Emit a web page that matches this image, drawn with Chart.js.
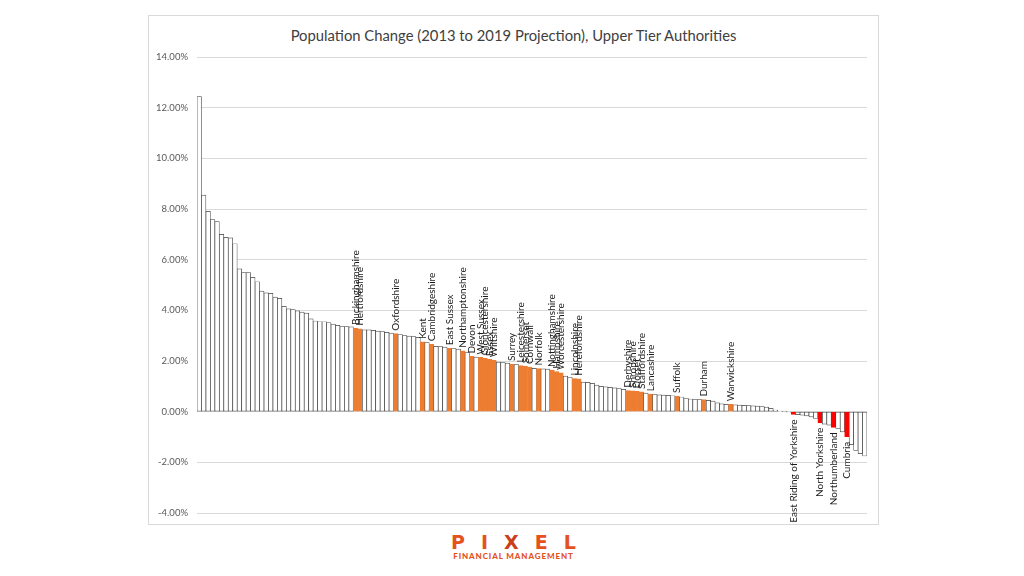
<!DOCTYPE html>
<html>
<head>
<meta charset="utf-8">
<title>Population Change (2013 to 2019 Projection)</title>
<script src="https://cdn.jsdelivr.net/npm/chart.js@4"></script>
<style>
    html, body { margin: 0; padding: 0; background: #fff; }
    body { width: 1024px; height: 576px; position: relative; overflow: hidden; font-family: Lato, "Open Sans", sans-serif; }
    #frame { position: absolute; left: 148px; top: 15px; width: 729px; height: 508px; border: 1px solid #d9d9d9; }
    #chartTitle { position: absolute; left: 0; top: 10px; width: 100%; text-align: center; font-size: 14.8px; line-height: 18px; color: #404040; white-space: nowrap; }
    #populationChart { position: absolute; left: 0; top: 0; }
    #logo { position: absolute; left: 451px; top: 534px; width: 125px; color: #e4521d; font-weight: bold; font-family: "DejaVu Sans", sans-serif; }
    #logo .word { display: flex; justify-content: space-between; font-size: 19px; line-height: 17px; }
    #logo .word .x { color: #c9401a; }
    #logo .sub { font-family: Lato, sans-serif; font-weight: 900; font-size: 8px; line-height: 10px; text-align: center; letter-spacing: 0.9px; white-space: nowrap; }
</style>
</head>
<body>
<div id="frame">
    <div id="chartTitle"></div>
    <canvas id="populationChart" width="729" height="508"></canvas>
</div>
<div id="logo">
    <div class="word"><span>P</span><span>I</span><span class="x">X</span><span>E</span><span>L</span></div>
    <div class="sub">FINANCIAL MANAGEMENT</div>
</div>
<script>
// population change 2013 -> 2019 projection, % (sorted, one bar per upper tier authority)
const values = [
    12.44, 8.55, 7.91, 7.58, 7.50, 7.00, 6.88, 6.86, 6.63, 5.64,
    5.49, 5.49, 5.30, 5.13, 4.76, 4.69, 4.67, 4.52, 4.47, 4.16,
    4.06, 4.03, 3.98, 3.93, 3.89, 3.66, 3.58, 3.55, 3.55, 3.52,
    3.46, 3.41, 3.36, 3.36, 3.35, 3.30, 3.27, 3.23, 3.23, 3.21,
    3.18, 3.16, 3.13, 3.10, 3.08, 3.04, 3.00, 2.98, 2.96, 2.93,
    2.76, 2.73, 2.66, 2.58, 2.57, 2.55, 2.50, 2.49, 2.47, 2.40,
    2.33, 2.18, 2.15, 2.14, 2.11, 2.07, 2.03, 1.96, 1.94, 1.92,
    1.88, 1.86, 1.82, 1.79, 1.76, 1.71, 1.70, 1.69, 1.68, 1.64,
    1.58, 1.53, 1.40, 1.36, 1.31, 1.30, 1.17, 1.16, 1.12, 1.05,
    1.00, 0.98, 0.96, 0.94, 0.91, 0.88, 0.83, 0.82, 0.80, 0.78,
    0.73, 0.69, 0.67, 0.66, 0.65, 0.64, 0.63, 0.62, 0.58, 0.53,
    0.50, 0.48, 0.48, 0.48, 0.45, 0.42, 0.35, 0.31, 0.29, 0.29,
    0.27, 0.26, 0.25, 0.24, 0.23, 0.22, 0.20, 0.18, 0.13, 0.06,
    0.02, 0.01, -0.02, -0.11, -0.12, -0.14, -0.17, -0.21, -0.27, -0.44,
    -0.49, -0.53, -0.62, -0.66, -0.80, -0.99, -1.30, -1.53, -1.66, -1.75
];

// only the shire counties are named on the chart, the rest stay blank
const categories = [
    "", "", "", "", "", "", "", "", "", "",
    "", "", "", "", "", "", "", "", "", "",
    "", "", "", "", "", "", "", "", "", "",
    "", "", "", "", "", "Buckinghamshire", "Hertfordshire", "", "", "",
    "", "", "", "", "Oxfordshire", "", "", "", "", "",
    "Kent", "", "Cambridgeshire", "", "", "", "East Sussex", "", "", "Northamptonshire",
    "", "Devon", "", "West Sussex", "Gloucestershire", "Essex", "Wiltshire", "", "", "",
    "Surrey", "", "Leicestershire", "Somerset", "Cornwall", "", "Norfolk", "", "", "Nottinghamshire",
    "Hampshire", "Worcestershire", "", "", "Lincolnshire", "Herefordshire", "", "", "", "",
    "", "", "", "", "", "", "Derbyshire", "Shropshire", "Dorset", "Staffordshire",
    "", "Lancashire", "", "", "", "", "", "Suffolk", "", "",
    "", "", "", "Durham", "", "", "", "", "", "Warwickshire",
    "", "", "", "", "", "", "", "", "", "",
    "", "", "", "East Riding of Yorkshire", "", "", "", "", "", "North Yorkshire",
    "", "", "Northumberland", "", "", "Cumbria", "", "", "", ""
];

const yTicks = [-4, -2, 0, 2, 4, 6, 8, 10, 12, 14];

const chartTitle = "Population Change (2013 to 2019 Projection), Upper Tier Authorities";

const countyColour = "#ed7d31";
const declineColour = "#ff0000";
const plainColour = "#ffffff";
const edgeColour = "#404040";

function barColour(i) {
    if (!categories[i]) return plainColour;
    return values[i] < 0 ? declineColour : countyColour;
}

// writes the county names vertically at the end of their bars
const countyLabels = {
    id: "countyLabels",
    afterDatasetsDraw(chart) {
        const ctx = chart.ctx;
        const bars = chart.getDatasetMeta(0).data;
        ctx.save();
        ctx.font = "10px Lato";
        ctx.fillStyle = "#1a1a1a";
        ctx.textBaseline = "middle";
        categories.forEach((name, i) => {
            if (!name) return;
            const bar = bars[i];
            ctx.save();
            if (values[i] >= 0) {
                ctx.translate(bar.x, bar.y - 3);
                ctx.rotate(-Math.PI / 2);
                ctx.textAlign = "left";
            } else {
                ctx.translate(bar.x, bar.y + 5);
                ctx.rotate(-Math.PI / 2);
                ctx.textAlign = "right";
            }
            ctx.fillText(name, 0, 0);
            ctx.restore();
        });
        ctx.restore();
    }
};

function initializeChart() {
    document.getElementById("chartTitle").textContent = chartTitle;

    new Chart(document.getElementById("populationChart"), {
        type: "bar",
        data: {
            labels: categories.map((c, i) => c || "#" + (i + 1)),
            datasets: [{
                data: values,
                backgroundColor: values.map((v, i) => barColour(i)),
                borderColor: values.map((v, i) => categories[i] ? barColour(i) : edgeColour),
                borderWidth: 0.7,
                borderSkipped: false,
                categoryPercentage: 1,
                barPercentage: 1
            }]
        },
        options: {
            responsive: false,
            animation: false,
            layout: { padding: { left: 0, right: 11, top: 41, bottom: 11 } },
            plugins: {
                legend: { display: false },
                tooltip: { enabled: false },
                title: { display: false }
            },
            scales: {
                x: { display: false },
                y: {
                    min: -4,
                    max: 14,
                    afterBuildTicks(scale) {
                        scale.ticks = yTicks.map(v => ({ value: v }));
                    },
                    afterFit(scale) {
                        scale.width = 48;
                        scale.paddingBottom = 0;
                    },
                    border: { display: false },
                    grid: { color: "#d9d9d9", drawTicks: false },
                    ticks: {
                        padding: 9,
                        color: "#595959",
                        font: { family: "Lato", size: 9.5 },
                        callback: v => v.toFixed(2) + "%"
                    }
                }
            }
        },
        plugins: [countyLabels]
    });
}

document.addEventListener("DOMContentLoaded", initializeChart);
</script>
</body>
</html>
